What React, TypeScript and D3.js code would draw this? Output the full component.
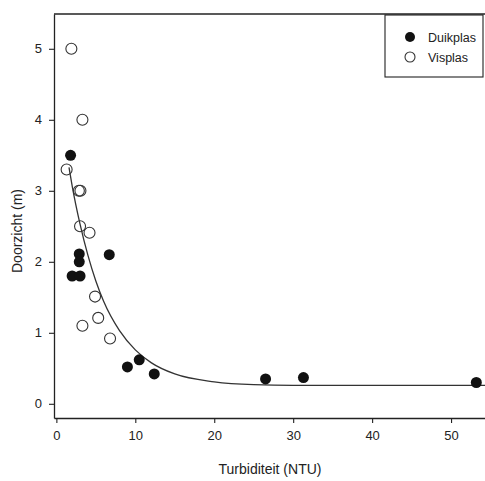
import React, { useEffect, useRef } from "react";
import * as d3 from "d3";

// Duikplas (gevulde punten)
const duikX = [1.8, 2.9, 2.9, 2.0, 3.0, 6.7, 9.0, 10.5, 12.4, 26.5, 31.3, 53.2];
const duikY = [3.5, 2.11, 2.0, 1.8, 1.8, 2.1, 0.52, 0.62, 0.42, 0.35, 0.37, 0.3];

// Visplas (open punten)
const visX = [1.9, 3.3, 1.3, 2.85, 3.05, 3.0, 4.2, 4.9, 5.3, 3.3, 6.8];
const visY = [5.0, 4.0, 3.3, 3.0, 3.0, 2.5, 2.41, 1.51, 1.21, 1.1, 0.92];

const fitX = [1.6, 2, 3, 4, 5, 6, 8, 10, 12, 15, 20, 25, 30, 40, 54.3];
const fitY = [3.33, 3.07, 2.53, 2.09, 1.73, 1.44, 1.03, 0.76, 0.58, 0.42, 0.31, 0.27, 0.26, 0.26, 0.26];

const xTicks = [0, 10, 20, 30, 40, 50];
const yTicks = [0, 1, 2, 3, 4, 5];

const W = 485;
const H = 481;
const font = "'Liberation Sans', Arial, sans-serif";
const ink = "#222";

export default function App() {
  const refX = useRef<SVGGElement>(null);
  const refY = useRef<SVGGElement>(null);

  const x = d3.scaleLinear().domain([-0.3, 54.3]).range([54, 485]);
  const y = d3.scaleLinear().domain([-0.2, 5.49]).range([418, 14]);

  useEffect(() => {
    document.body.style.margin = "0";

    const gx = d3.select(refX.current);
    gx.call(
      d3.axisBottom(x).tickValues(xTicks).tickFormat(d3.format("d")).tickSize(5).tickPadding(8).tickSizeOuter(0)
    );
    const gy = d3.select(refY.current);
    gy.call(
      d3.axisLeft(y).tickValues(yTicks).tickFormat(d3.format("d")).tickSize(5).tickPadding(7).tickSizeOuter(0)
    );

    [gx, gy].forEach((g) => {
      g.selectAll(".domain").attr("stroke", ink).attr("stroke-width", 1.3);
      g.selectAll(".tick line").attr("stroke", ink).attr("stroke-width", 1.1);
      g.selectAll(".tick text")
        .attr("fill", ink)
        .style("font-family", font)
        .style("font-size", "13px");
    });
  }, []);

  const line = d3
    .line<number>()
    .x((d) => x(d))
    .y((d, i) => y(fitY[i]))
    .curve(d3.curveMonotoneX);

  const r = 5.5;

  return (
    <svg width={W} height={H} style={{ display: "block", background: "#fff" }}>
      {/* bovenrand */}
      <line x1={54} x2={485} y1={y(5.49)} y2={y(5.49)} stroke={ink} strokeWidth={1.3} />
      <g ref={refX} transform={`translate(0,${y(-0.2)})`} />
      <g ref={refY} transform={`translate(${x(-0.3)},0)`} />

      <path d={line(fitX) || ""} fill="none" stroke="#333" strokeWidth={1.3} />

      {duikX.map((d, i) => (
        <circle key={"d" + i} cx={x(d)} cy={y(duikY[i])} r={r} fill="#111" />
      ))}
      {visX.map((d, i) => (
        <circle
          key={"v" + i}
          cx={x(d)}
          cy={y(visY[i])}
          r={r}
          fill="none"
          stroke="#333"
          strokeWidth={1.1}
        />
      ))}

      {/* legenda */}
      <rect x={385} y={15} width={98} height={62} fill="#fff" stroke={ink} strokeWidth={1.1} />
      <circle cx={410} cy={37} r={5} fill="#111" />
      <circle cx={410} cy={57} r={5} fill="none" stroke="#333" strokeWidth={1.1} />
      <text x={428} y={41.5} fontFamily={font} fontSize={12.5} fill={ink}>
        Duikplas
      </text>
      <text x={428} y={61.5} fontFamily={font} fontSize={12.5} fill={ink}>
        Visplas
      </text>

      {/* astitels */}
      <text x={270} y={474} textAnchor="middle" fontFamily={font} fontSize={14} fill={ink}>
        Turbiditeit (NTU)
      </text>
      <text
        transform="translate(22,231) rotate(-90)"
        textAnchor="middle"
        fontFamily={font}
        fontSize={14}
        fill={ink}
      >
        Doorzicht (m)
      </text>
    </svg>
  );
}
